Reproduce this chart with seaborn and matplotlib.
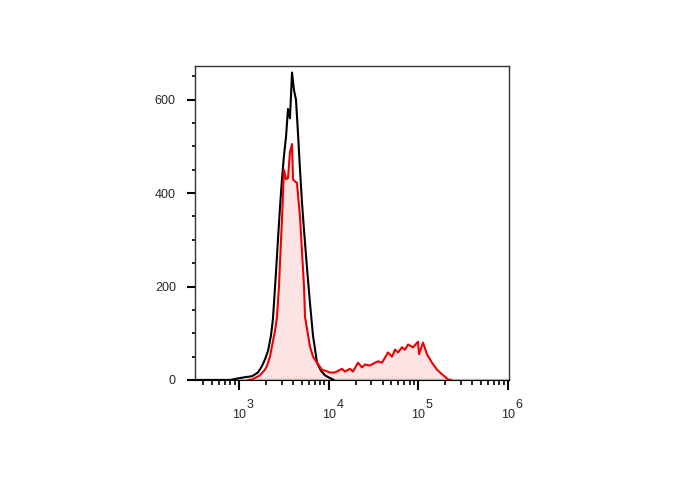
import numpy as np
import pandas as pd
import matplotlib
matplotlib.use("Agg")
import matplotlib.pyplot as plt
from matplotlib.ticker import MultipleLocator, LogLocator, NullFormatter
import seaborn as sns

# unstained control (black), log10 of intensity and event counts
black_log = [2.51, 2.90, 2.978, 3.067, 3.145, 3.179, 3.212, 3.257, 3.290, 3.324, 3.357,
             3.379, 3.413, 3.435, 3.458, 3.480, 3.502, 3.525, 3.547, 3.569, 3.592,
             3.614, 3.636, 3.658, 3.681, 3.703, 3.726, 3.759, 3.792, 3.826, 3.871,
             3.915, 3.960, 4.016, 4.06]
black_cnt = [0, 0, 3, 6, 8, 12, 16, 30, 44, 62, 95,
             130, 230, 300, 370, 430, 480, 520, 580, 560, 658,
             620, 600, 530, 450, 380, 320, 240, 165, 95, 37,
             20, 10, 4, 0]

# stained sample (red, filled)
red_log = [3.10, 3.145, 3.234, 3.290, 3.312, 3.346, 3.368, 3.402, 3.424, 3.446, 3.462,
           3.480, 3.502, 3.525, 3.547, 3.569, 3.592, 3.603, 3.625, 3.647, 3.681,
           3.703, 3.726, 3.737, 3.759, 3.792, 3.826, 3.871, 3.926, 3.960, 4.016,
           4.071, 4.150, 4.183, 4.239, 4.272, 4.328, 4.373, 4.406, 4.462, 4.518,
           4.551, 4.596, 4.630, 4.663, 4.708, 4.741, 4.775, 4.819, 4.853, 4.887,
           4.942, 4.998, 5.009, 5.054, 5.098, 5.154, 5.210, 5.266, 5.299, 5.333, 5.37]
red_cnt = [0, 1, 10, 22, 30, 50, 72, 105, 135, 200, 270,
           343, 450, 430, 432, 487, 505, 429, 425, 422, 350,
           275, 200, 135, 110, 72, 50, 37, 22, 20, 16,
           16, 24, 18, 24, 18, 37, 27, 33, 31, 37,
           40, 37, 48, 59, 50, 65, 59, 70, 65, 76,
           70, 82, 55, 80, 55, 37, 22, 12, 7, 1, 0]

# empty gate (grey baseline)
grey_log = [2.51, 6.02]
grey_cnt = [1, 1]

decades = [1e3, 1e4, 1e5, 1e6]
decade_exp = ["3", "4", "5", "6"]

df = pd.concat([
    pd.DataFrame({"x": 10 ** np.array(grey_log), "y": grey_cnt, "s": "grey"}),
    pd.DataFrame({"x": 10 ** np.array(black_log), "y": black_cnt, "s": "black"}),
    pd.DataFrame({"x": 10 ** np.array(red_log), "y": red_cnt, "s": "red"}),
])

sns.set_style("ticks")
plt.rcParams['font.family'] = ['Liberation Sans', 'DejaVu Sans']

fig = plt.figure(figsize=(6.88, 4.90), dpi=100)
ax = fig.add_axes([0.2834, 0.2245, 0.4564, 0.6408])

red = df[df.s == "red"]
ax.fill_between(red.x, red.y, color="#fde4e4", lw=0, zorder=1)
sns.lineplot(data=df, x="x", y="y", hue="s",
             palette={"grey": "#b0b0b0", "black": "black", "red": "#ee0000"},
             estimator=None, sort=False, lw=1.5, legend=False, ax=ax, zorder=3)

ax.set_xscale("log")
ax.set_xlim(323, 1.03e6)
ax.set_ylim(0, 672)
ax.set_xlabel("")
ax.set_ylabel("")

ax.set_xticks(decades)
ax.set_xticklabels(["10"] * len(decades))
ax.xaxis.set_minor_locator(LogLocator(base=10, subs=np.arange(2, 10), numticks=10))
ax.xaxis.set_minor_formatter(NullFormatter())
ax.yaxis.set_major_locator(MultipleLocator(200))
ax.yaxis.set_minor_locator(MultipleLocator(50))

ax.tick_params(axis="x", which="major", length=7.2, width=1.5, labelsize=9, pad=14, color="black")
ax.tick_params(axis="x", which="minor", length=3.6, width=1.2, color="black")
ax.tick_params(axis="y", which="major", length=5.8, width=1.5, labelsize=9, pad=8, color="black")
ax.tick_params(axis="y", which="minor", length=2.2, width=1.2, color="black")

for d, e in zip(decades, decade_exp):
    ax.annotate(e, xy=(d, 0), xycoords=("data", "axes fraction"), xytext=(8, -18),
                textcoords="offset points", ha="center", va="center", fontsize=9,
                annotation_clip=False)

for sp in ax.spines.values():
    sp.set_color("#333333")
    sp.set_linewidth(1)
ax.spines["bottom"].set_linewidth(1.5)
ax.spines["bottom"].set_color("black")

fig.savefig("out.png", dpi=100)
